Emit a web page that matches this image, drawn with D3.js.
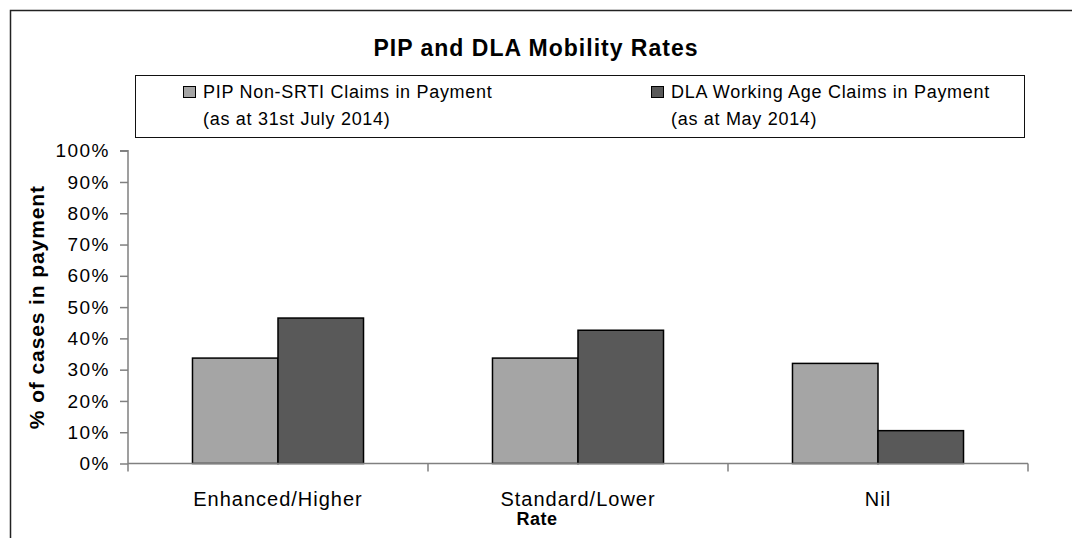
<!DOCTYPE html>
<html>
<head>
<meta charset="utf-8">
<script src="https://cdn.jsdelivr.net/npm/d3@7"></script>
<style>
  html, body { margin: 0; padding: 0; background: #fff; }
  svg { display: block; font-family: "Liberation Sans", Arial, sans-serif; }
</style>
</head>
<body>
<svg id="chart" width="1072" height="538"></svg>
<script>
const categories = ["Enhanced/Higher", "Standard/Lower", "Nil"];
const seriesNames = ["PIP Non-SRTI Claims in Payment", "DLA Working Age Claims in Payment"];
const seriesSub = ["(as at 31st July 2014)", "(as at May 2014)"];
const pipValues = [33.7, 33.7, 32.0];
const dlaValues = [46.5, 42.6, 10.5];
const yTicks = [0, 10, 20, 30, 40, 50, 60, 70, 80, 90, 100];
const colors = ["#a5a5a5", "#595959"];

const svg = d3.select("#chart");

// outer frame (extends beyond the visible window)
svg.append("rect").attr("x", 10.5).attr("y", 10.5).attr("width", 1100).attr("height", 600)
  .attr("fill", "none").attr("stroke", "#222").attr("stroke-width", 1.5);

// title
svg.append("text").attr("x", 536).attr("y", 56).attr("text-anchor", "middle")
  .attr("font-weight", "bold").attr("font-size", 23).attr("letter-spacing", 1)
  .text("PIP and DLA Mobility Rates");

// legend
const lg = svg.append("g");
lg.append("rect").attr("x", 135.5).attr("y", 75.5).attr("width", 889).attr("height", 62)
  .attr("fill", "#fff").attr("stroke", "#111").attr("stroke-width", 1);
const legendX = [183, 651];
seriesNames.forEach((name, i) => {
  lg.append("rect").attr("x", legendX[i] + 0.5).attr("y", 86.5).attr("width", 12).attr("height", 11)
    .attr("fill", colors[i]).attr("stroke", "#000").attr("stroke-width", 1);
  lg.append("text").attr("x", legendX[i] + 20).attr("y", 98).attr("font-size", 18)
    .attr("letter-spacing", 0.7).text(name);
  lg.append("text").attr("x", legendX[i] + 20).attr("y", 125).attr("font-size", 18)
    .attr("letter-spacing", 0.7).text(seriesSub[i]);
});

// scales
const plot = { left: 128, right: 1028, top: 150.7, bottom: 463.5 };
const x0 = d3.scaleBand().domain(categories).range([plot.left, plot.right]).padding(0);
const x1 = d3.scaleBand().domain([0, 1]).range([0, x0.bandwidth()]).paddingInner(0).paddingOuter(0.754);
const y = d3.scaleLinear().domain([0, 100]).range([plot.bottom, plot.top]);

// bars
const data = categories.map((c, i) => ({ c, vals: [pipValues[i], dlaValues[i]] }));
const groups = svg.append("g").selectAll("g").data(data).join("g")
  .attr("transform", d => `translate(${x0(d.c)},0)`);
groups.selectAll("rect").data(d => d.vals.map((v, j) => ({ v, j }))).join("rect")
  .attr("x", d => x1(d.j))
  .attr("y", d => y(d.v))
  .attr("width", x1.bandwidth())
  .attr("height", d => y(0) - y(d.v))
  .attr("fill", d => colors[d.j])
  .attr("stroke", "#000").attr("stroke-width", 1.5);

// y axis
const yAxis = svg.append("g").attr("transform", `translate(${plot.left},0)`)
  .call(d3.axisLeft(y).tickValues(yTicks).tickSize(8).tickPadding(10).tickFormat(d => d + "%"));
yAxis.select(".domain").attr("stroke", "#808080").attr("stroke-width", 1.5).attr("d", `M-8,${plot.top}H0V${plot.bottom + 8}`);
yAxis.selectAll(".tick line").attr("stroke", "#808080").attr("stroke-width", 1.5);
yAxis.selectAll(".tick text").attr("font-size", 19).attr("fill", "#000").attr("letter-spacing", 1.5)
  .attr("font-family", "Liberation Sans, Arial, sans-serif");

// x axis
const xAxis = svg.append("g").attr("transform", `translate(0,${plot.bottom})`)
  .call(d3.axisBottom(x0).tickSize(0).tickPadding(28));
xAxis.select(".domain").attr("stroke", "#808080").attr("stroke-width", 1.5).attr("d", `M${plot.left},0H${plot.right}`);
xAxis.selectAll(".tick text").attr("font-size", 20).attr("fill", "#000").attr("letter-spacing", 1)
  .attr("font-family", "Liberation Sans, Arial, sans-serif");
// boundary ticks
const bounds = categories.map(c => x0(c) + x0.bandwidth());
xAxis.selectAll(".bound").data(bounds).join("line").attr("class", "bound")
  .attr("x1", d => d).attr("x2", d => d).attr("y1", 0).attr("y2", 8)
  .attr("stroke", "#808080").attr("stroke-width", 1.5);

// axis titles
svg.append("text").attr("x", 537).attr("y", 525).attr("text-anchor", "middle")
  .attr("font-weight", "bold").attr("font-size", 18).attr("letter-spacing", 0.5).text("Rate");
svg.append("text").attr("transform", `translate(44,${(plot.top + plot.bottom) / 2}) rotate(-90)`)
  .attr("text-anchor", "middle").attr("font-weight", "bold").attr("font-size", 21).attr("letter-spacing", 0.9)
  .text("% of cases in payment");
</script>
</body>
</html>
